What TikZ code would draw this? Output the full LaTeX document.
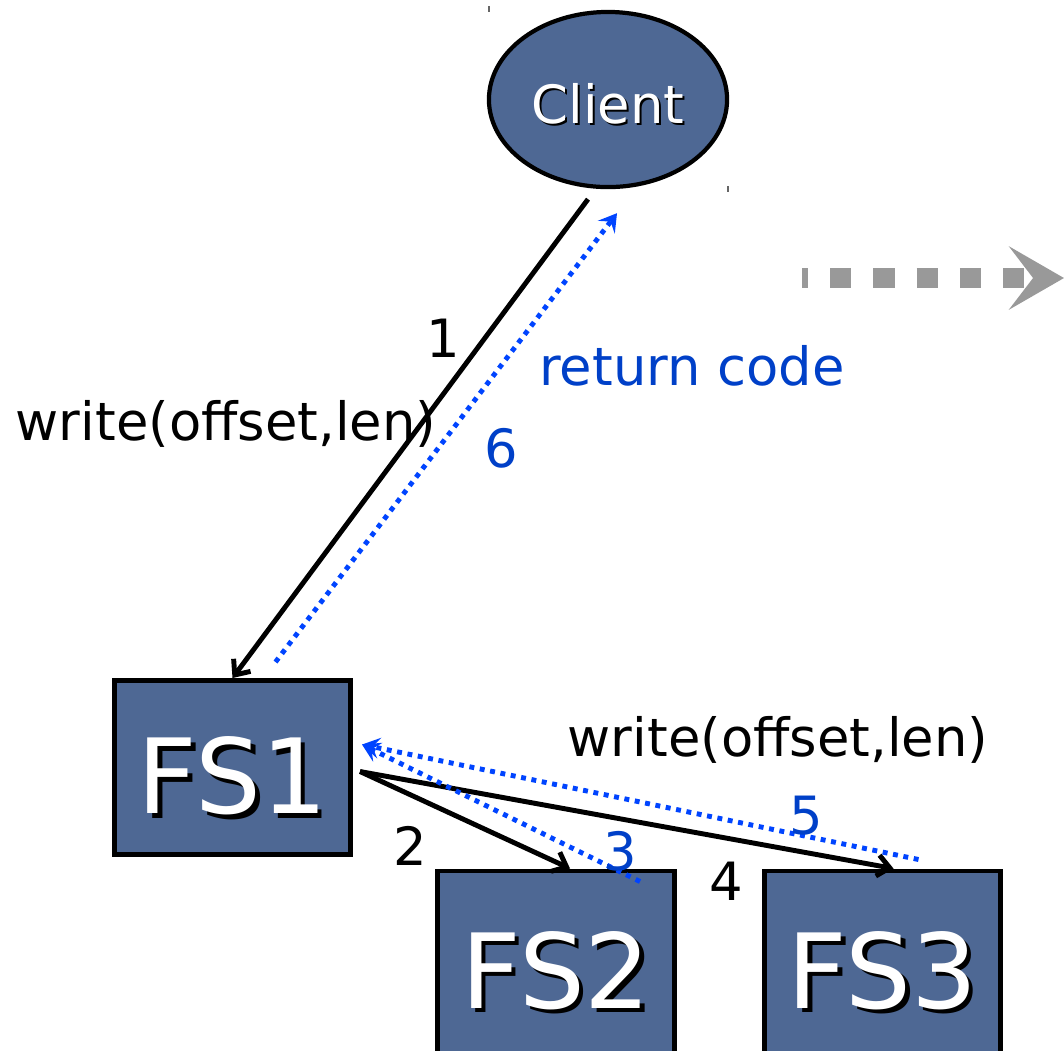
\documentclass[tikz,border=0pt]{standalone}
\usepackage{fontspec}
\setmainfont{DejaVu Sans}
\usetikzlibrary{arrows.meta,calc,shapes.geometric}

\definecolor{boxfill}{RGB}{78,104,148}
\definecolor{retblue}{RGB}{0,64,200}
\definecolor{dotblue}{RGB}{0,68,255}
\definecolor{nextgray}{RGB}{153,153,153}

% white text with a black drop shadow
\newcommand{\shadowtext}[3]{\raisebox{-#3}[\height][0pt]{\makebox[0pt][l]{\kern#1\raisebox{-#1}{\color{black}#2}}{\color{white}#2}}}

\begin{document}
\begin{tikzpicture}[x=0.01cm,y=-0.01cm,
  server/.style={draw=black,line width=1.4pt,fill=boxfill,
    minimum width=2.36cm,minimum height=1.74cm,inner sep=0pt,
    font=\fontsize{29.5}{32}\selectfont},
  lbl/.style={inner sep=0pt,font=\fontsize{15}{18}\selectfont},
  bluelbl/.style={lbl,text=retblue},
  req/.style={line width=1.4pt,-{Straight Barb[length=3.5pt,width=6pt]}},
  ack/.style={dotblue,line width=1.4pt,dash pattern=on 1.4pt off 1.6pt,
    -{Stealth[length=5pt,width=6pt,inset=2pt]}}]

  \useasboundingbox (0,0) rectangle (1064,1050);
  \clip (0,0) rectangle (1064,1050);

  % Client and file servers
  \node[ellipse,draw=black,line width=1.2pt,fill=boxfill,
    minimum width=2.38cm,minimum height=1.75cm,inner sep=0pt,
    font=\fontsize{15}{18}\selectfont] (client) at (608,99.5) {\shadowtext{0.6pt}{Client}{1pt}};
  \node[server] (FS1) at (232.5,767.5) {\shadowtext{1.3pt}{FS1}{2.2pt}};
  \node[server,minimum height=1.82cm] (FS2) at (556,962) {\shadowtext{1.3pt}{FS2}{2.2pt}};
  \node[server,minimum height=1.82cm] (FS3) at (882.5,962) {\shadowtext{1.3pt}{FS3}{2.2pt}};

  % little corner marks of the client
  \draw[line width=0.4pt,black!60] (489,6) -- (489,12);
  \draw[line width=0.4pt,black!60] (728,186) -- (728,192);

  % Client -> FS1 and back
  \draw[req] ($(client.south)+(-20,10)$) -- (FS1.north);
  \draw[ack] ($(FS1.north)+(43,-16)$) -- ($(client.south)+(9,24)$);

  % FS1 -> FS2, FS3 and back
  \draw[req] ($(FS1.east)+(7,4)$) -- ($(FS2.north)+(14,0)$);
  \draw[req] ($(FS1.east)+(7,4)$) -- ($(FS3.north)+(11,0)$);
  \draw[ack] ($(FS2.north)+(84,13)$) -- ($(FS1.east)+(9,-23)$);
  \draw[ack] ($(FS3.north)+(36,-9)$) -- ($(FS1.east)+(9,-23)$);

  % Step labels
  \node[lbl] (s1) at (443,338) {1};
  \node[lbl] (w1) at (226,424) {write(offset,len)};
  \node[bluelbl] (s6) at (501,448) {6};
  \node[bluelbl] (rc) at (692,366) {return code};
  \node[lbl] (s2) at (410,846) {2};
  \node[bluelbl] (s3) at (620,851) {3};
  \node[lbl] (s4) at (726,881) {4};
  \node[bluelbl] (s5) at (806,816) {5};
  \node[lbl] (w2) at (778,740) {write(offset,len)};

  % Next step arrow
  \coordinate (gs) at (802,278);
  \coordinate (ge) at (1064,278);
  \draw[nextgray,line width=5.7pt,dash pattern=on 6pt off 6.3pt,dash phase=4.3pt,
    -{Stealth[length=15.6pt,width=17.9pt,inset=6.8pt]}] (gs) -- (ge);

\end{tikzpicture}
\end{document}
